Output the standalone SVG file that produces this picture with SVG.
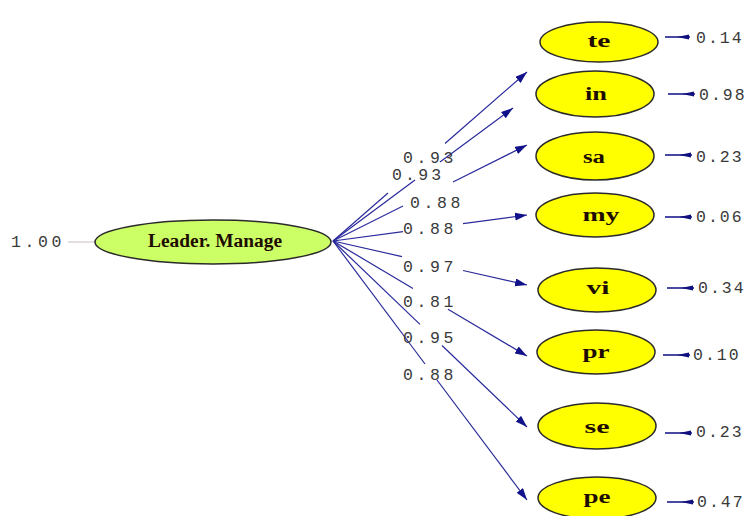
<svg xmlns="http://www.w3.org/2000/svg" width="748" height="516" viewBox="0 0 748 516">
<style>
.num{font-family:"Liberation Mono","DejaVu Sans Mono",monospace;font-size:16.5px;fill:#3a3a3a;letter-spacing:3.6px}
.ev{font-family:"Liberation Mono","DejaVu Sans Mono",monospace;font-size:16.5px;fill:#3a3a3a;letter-spacing:2px}
.lbl{font-family:"Liberation Serif","Times New Roman",serif;font-weight:bold;font-size:18px;fill:#1e0c00;text-anchor:middle}
.obs{fill:#ffff00;stroke:#2a2a2a;stroke-width:1.5}
.path{stroke:#2a2a9c;stroke-width:1.2;fill:none}
.err{stroke:#1c1c8c;stroke-width:1.6;fill:none}
.eh{fill:#10107e}
</style>
<defs>
<marker id="ah" markerUnits="userSpaceOnUse" markerWidth="13" markerHeight="9" refX="12" refY="4" orient="auto">
<path d="M0,0 L12,4 L0,8 z" fill="#12128a"/>
</marker>
</defs>
<rect width="748" height="516" fill="#ffffff"/>

<g id="leader">
<line x1="68" y1="242" x2="95" y2="242" stroke="#cbbcc4" stroke-width="1"/>
<text class="num" x="11" y="247">1.00</text>
<ellipse cx="213" cy="242" rx="118" ry="22" fill="#ccff66" stroke="#2a2a2a" stroke-width="1.5"/>
<text class="lbl" x="215" y="247" font-size="16" textLength="134" lengthAdjust="spacingAndGlyphs">Leader. Manage</text>
</g>

<g id="connectors">
<line class="path" x1="333" y1="241" x2="388" y2="193"/>
<line class="path" x1="445" y1="143.5" x2="527" y2="72" marker-end="url(#ah)"/>
<line class="path" x1="333" y1="241" x2="415" y2="180"/>
<line class="path" x1="440" y1="162" x2="513" y2="108" marker-end="url(#ah)"/>
<line class="path" x1="333" y1="241" x2="403" y2="206"/>
<line class="path" x1="453" y1="182" x2="527" y2="145" marker-end="url(#ah)"/>
<line class="path" x1="333" y1="241" x2="403" y2="231.6"/>
<line class="path" x1="463" y1="223.6" x2="527" y2="215" marker-end="url(#ah)"/>
<line class="path" x1="333" y1="241" x2="402" y2="256.6"/>
<line class="path" x1="463" y1="270.5" x2="527" y2="285" marker-end="url(#ah)"/>
<line class="path" x1="333" y1="241" x2="413" y2="288.4"/>
<line class="path" x1="448" y1="309.2" x2="527" y2="356" marker-end="url(#ah)"/>
<line class="path" x1="333" y1="241" x2="420" y2="324.4"/>
<line class="path" x1="442" y1="345.5" x2="527" y2="427" marker-end="url(#ah)"/>
<line class="path" x1="333" y1="241" x2="425" y2="364"/>
<line class="path" x1="437" y1="380" x2="527" y2="500" marker-end="url(#ah)"/>
<text class="num" x="403" y="163">0.93</text>
<text class="num" x="392" y="180" font-size="14.5" style="letter-spacing:3.2px" fill="#5a5a5a">0.93</text>
<text class="num" x="410" y="208">0.88</text>
<text class="num" x="403" y="234">0.88</text>
<text class="num" x="403" y="272">0.97</text>
<text class="num" x="403" y="307">0.81</text>
<text class="num" x="403" y="343">0.95</text>
<text class="num" x="403" y="380">0.88</text>
</g>

<g id="te">
<ellipse class="obs" cx="599" cy="42" rx="59" ry="20"/>
<text class="lbl" x="599" y="47" textLength="23" lengthAdjust="spacingAndGlyphs">te</text>
<line class="err" x1="665" y1="37" x2="690" y2="37"/><path class="eh" d="M677,37 L689,34.5 L689,39.5 z"/>
<text class="ev" x="696" y="43">0.14</text>
</g>
<g id="in">
<ellipse class="obs" cx="595" cy="94" rx="59" ry="23"/>
<text class="lbl" x="596" y="100" textLength="22" lengthAdjust="spacingAndGlyphs">in</text>
<line class="err" x1="668" y1="94" x2="695" y2="94"/><path class="eh" d="M682,94 L694,91.5 L694,96.5 z"/>
<text class="ev" x="699" y="100">0.98</text>
</g>
<g id="sa">
<ellipse class="obs" cx="595" cy="156" rx="59" ry="24"/>
<text class="lbl" x="594" y="163" textLength="22" lengthAdjust="spacingAndGlyphs">sa</text>
<line class="err" x1="665" y1="155" x2="692" y2="155"/><path class="eh" d="M679,155 L691,152.5 L691,157.5 z"/>
<text class="ev" x="696" y="162">0.23</text>
</g>
<g id="my">
<ellipse class="obs" cx="595" cy="215" rx="59" ry="22"/>
<text class="lbl" x="601" y="221" textLength="37" lengthAdjust="spacingAndGlyphs">my</text>
<line class="err" x1="665" y1="217" x2="692" y2="217"/><path class="eh" d="M679,217 L691,214.5 L691,219.5 z"/>
<text class="ev" x="696" y="222">0.06</text>
</g>
<g id="vi">
<ellipse class="obs" cx="597" cy="290" rx="59" ry="22"/>
<text class="lbl" x="598" y="294" textLength="23" lengthAdjust="spacingAndGlyphs">vi</text>
<line class="err" x1="667" y1="288" x2="694" y2="288"/><path class="eh" d="M681,288 L693,285.5 L693,290.5 z"/>
<text class="ev" x="698" y="293">0.34</text>
</g>
<g id="pr">
<ellipse class="obs" cx="596" cy="352" rx="59" ry="22"/>
<text class="lbl" x="596" y="358" textLength="27" lengthAdjust="spacingAndGlyphs">pr</text>
<line class="err" x1="663" y1="355" x2="690" y2="355"/><path class="eh" d="M677,355 L689,352.5 L689,357.5 z"/>
<text class="ev" x="693" y="360">0.10</text>
</g>
<g id="se">
<ellipse class="obs" cx="597" cy="426" rx="59" ry="23"/>
<text class="lbl" x="597" y="433" textLength="25" lengthAdjust="spacingAndGlyphs">se</text>
<line class="err" x1="665" y1="433" x2="692" y2="433"/><path class="eh" d="M679,433 L691,430.5 L691,435.5 z"/>
<text class="ev" x="696" y="437">0.23</text>
</g>
<g id="pe">
<ellipse class="obs" cx="597" cy="498" rx="59" ry="21"/>
<text class="lbl" x="597" y="503" textLength="27" lengthAdjust="spacingAndGlyphs">pe</text>
<line class="err" x1="667" y1="502" x2="694" y2="502"/><path class="eh" d="M681,502 L693,499.5 L693,504.5 z"/>
<text class="ev" x="697" y="507">0.47</text>
</g>
</svg>
